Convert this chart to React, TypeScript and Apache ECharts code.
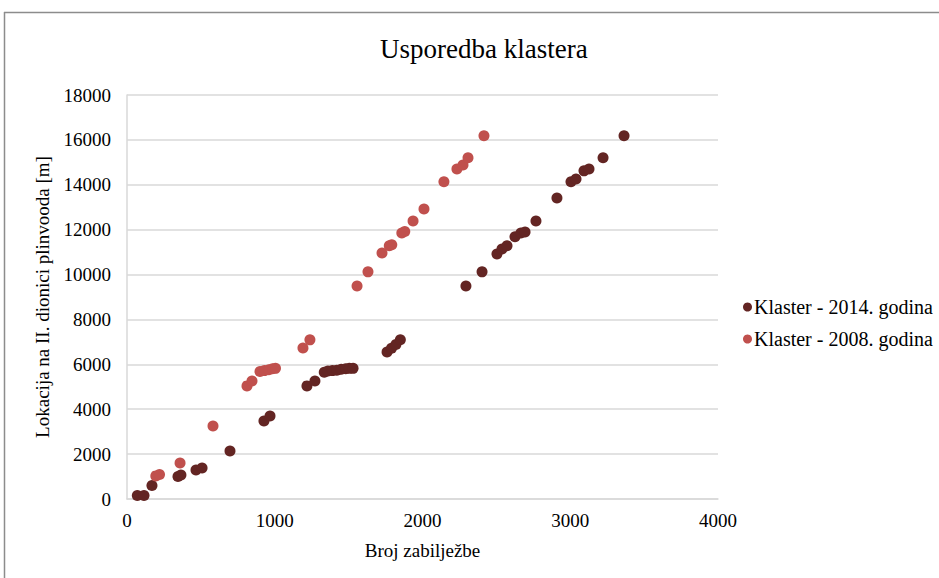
import React, { useEffect, useRef } from "react";
import * as echarts from "echarts";

const xTicks = [0, 1000, 2000, 3000, 4000];
const yTicks = [0, 2000, 4000, 6000, 8000, 10000, 12000, 14000, 16000, 18000];

const series2014Name = "Klaster - 2014. godina";
const series2008Name = "Klaster - 2008. godina";

const x2014 = [70, 115, 169, 345, 365, 467, 508, 697, 927, 968, 1218, 1272, 1335, 1360, 1390, 1420, 1450, 1480, 1505, 1530, 1760, 1790, 1820, 1850, 2294, 2403, 2504, 2538, 2572, 2626, 2666, 2694, 2768, 2910, 3005, 3039, 3093, 3127, 3222, 3364];
const y2014 = [160, 160, 600, 1000, 1070, 1290, 1380, 2140, 3480, 3700, 5040, 5260, 5650, 5700, 5720, 5740, 5780, 5800, 5820, 5820, 6550, 6720, 6880, 7100, 9490, 10120, 10920, 11140, 11280, 11680, 11850, 11900, 12390, 13410, 14130, 14260, 14620, 14700, 15200, 16180];

const x2008 = [195, 220, 359, 582, 812, 846, 900, 930, 960, 985, 1005, 1191, 1238, 1557, 1631, 1726, 1775, 1792, 1860, 1880, 1936, 2010, 2145, 2233, 2274, 2308, 2416];
const y2008 = [1030, 1090, 1600, 3250, 5040, 5260, 5680, 5720, 5760, 5800, 5820, 6730, 7090, 9490, 10120, 10960, 11280, 11330, 11850, 11920, 12390, 12920, 14130, 14700, 14880, 15200, 16180];

const zip = (xs: number[], ys: number[]) => xs.map((x, i) => [x, ys[i]]);

export default function App() {
  const ref = useRef<HTMLDivElement>(null);
  useEffect(() => {
    document.body.style.margin = "0";
    const chart = echarts.init(ref.current!, null, { renderer: "svg" });
    const font = "'Liberation Serif', 'Times New Roman', serif";
    chart.setOption({
      animation: false,
      backgroundColor: "#ffffff",
      textStyle: { fontFamily: font },
      title: {
        text: "Usporedba klastera",
        left: 375,
        top: 30,
        textStyle: { fontFamily: font, fontSize: 27, fontWeight: "normal", color: "#000" },
      },
      grid: { left: 127, top: 95, width: 591, height: 404, containLabel: false },
      xAxis: {
        type: "value",
        min: xTicks[0],
        max: xTicks[xTicks.length - 1],
        interval: 1000,
        name: "Broj zabilježbe",
        nameLocation: "middle",
        nameGap: 42,
        nameTextStyle: { fontFamily: font, fontSize: 19, color: "#000" },
        axisLine: { show: true, lineStyle: { color: "#D9D9D9", width: 1.5 } },
        axisTick: { show: false },
        axisLabel: { fontFamily: font, fontSize: 19, color: "#000", margin: 12, formatter: (v: number) => String(v) },
        splitLine: { show: false },
      },
      yAxis: {
        type: "value",
        min: yTicks[0],
        max: yTicks[yTicks.length - 1],
        interval: 2000,
        name: "Lokacija na II. dionici plinvooda [m]",
        nameLocation: "middle",
        nameGap: 75,
        nameTextStyle: { fontFamily: font, fontSize: 19, color: "#000" },
        axisLine: { show: true, lineStyle: { color: "#D9D9D9", width: 1.5 } },
        axisTick: { show: false },
        axisLabel: { fontFamily: font, fontSize: 19, color: "#000", margin: 16, formatter: (v: number) => String(v) },
        splitLine: { show: true, lineStyle: { color: "#D9D9D9", width: 1.5 } },
      },
      legend: {
        orient: "vertical",
        left: 738,
        top: 292,
        itemGap: 12,
        itemWidth: 9,
        itemHeight: 9,
        icon: "circle",
        textStyle: { fontFamily: font, fontSize: 20, color: "#000", padding: [0, 0, 0, -3] },
        data: [series2014Name, series2008Name],
      },
      series: [
        {
          name: series2014Name,
          type: "scatter",
          symbolSize: 11,
          itemStyle: { color: "#632523", opacity: 1 },
          data: zip(x2014, y2014),
        },
        {
          name: series2008Name,
          type: "scatter",
          symbolSize: 11,
          itemStyle: { color: "#C0504D", opacity: 1 },
          data: zip(x2008, y2008),
        },
      ],
      graphic: [
        { type: "line", shape: { x1: 4, y1: 12.5, x2: 939, y2: 12.5 }, style: { stroke: "#8C8C8C", lineWidth: 1.5 } },
        { type: "line", shape: { x1: 4.5, y1: 12, x2: 4.5, y2: 578 }, style: { stroke: "#8C8C8C", lineWidth: 1.5 } },
      ],
    });
    return () => chart.dispose();
  }, []);
  return <div ref={ref} style={{ position: "absolute", left: 0, top: 0, width: 939, height: 578 }} />;
}
